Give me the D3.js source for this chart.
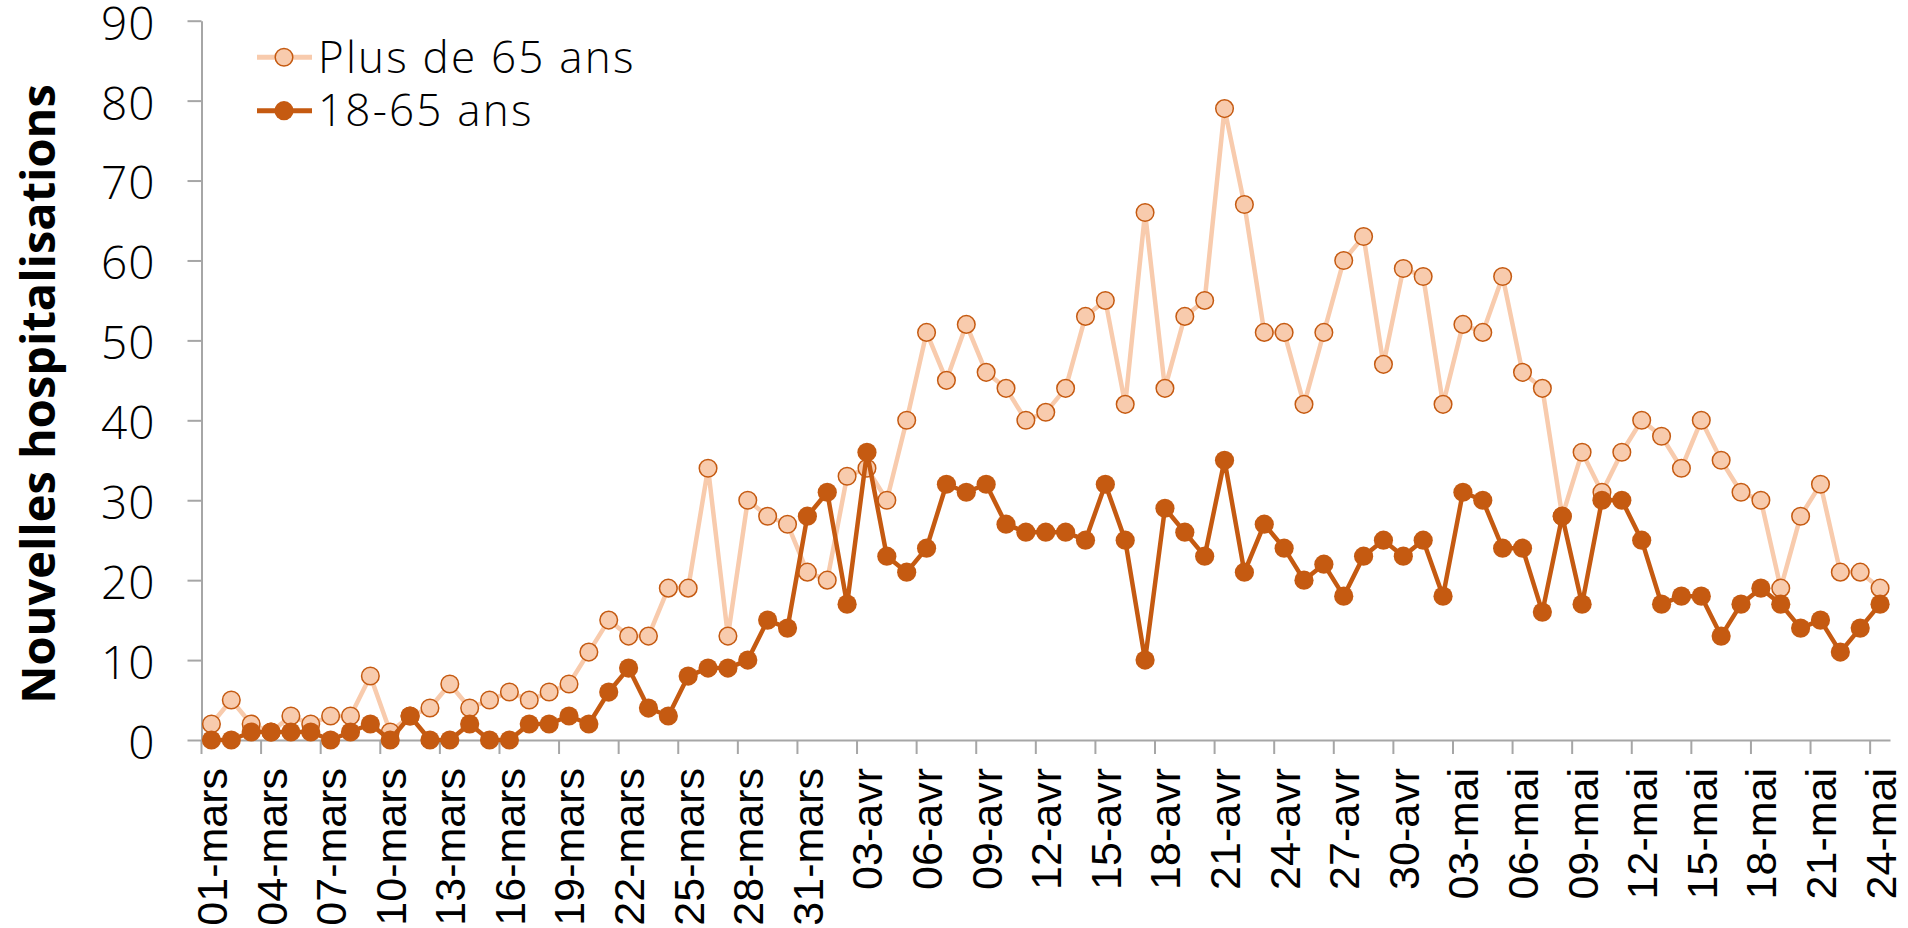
<!DOCTYPE html>
<html>
<head>
<meta charset="utf-8">
<script src="https://cdn.jsdelivr.net/npm/d3@7"></script>
<style>
  body { margin: 0; background: #fff; }
  svg { display: block; }
  .domain { stroke: #a6a6a6; stroke-width: 2; }
  .tick line { stroke: #a6a6a6; stroke-width: 2; }
</style>
</head>
<body>
<script>
// categories (one per day, 01-mars .. 24-mai)
var dates = [
  "01-mars","02-mars","03-mars","04-mars","05-mars","06-mars","07-mars","08-mars","09-mars","10-mars",
  "11-mars","12-mars","13-mars","14-mars","15-mars","16-mars","17-mars","18-mars","19-mars","20-mars",
  "21-mars","22-mars","23-mars","24-mars","25-mars","26-mars","27-mars","28-mars","29-mars","30-mars",
  "31-mars","01-avr","02-avr","03-avr","04-avr","05-avr","06-avr","07-avr","08-avr","09-avr",
  "10-avr","11-avr","12-avr","13-avr","14-avr","15-avr","16-avr","17-avr","18-avr","19-avr",
  "20-avr","21-avr","22-avr","23-avr","24-avr","25-avr","26-avr","27-avr","28-avr","29-avr",
  "30-avr","01-mai","02-mai","03-mai","04-mai","05-mai","06-mai","07-mai","08-mai","09-mai",
  "10-mai","11-mai","12-mai","13-mai","14-mai","15-mai","16-mai","17-mai","18-mai","19-mai",
  "20-mai","21-mai","22-mai","23-mai","24-mai"
];

// Plus de 65 ans
var plus65 = [
  2,5,2,1,3,2,3,3,8,1,
  3,4,7,4,5,6,5,6,7,11,
  15,13,13,19,19,34,13,30,28,27,
  21,20,33,34,30,40,51,45,52,46,
  44,40,41,44,53,55,42,66,44,53,
  55,79,67,51,51,42,51,60,63,47,
  59,58,42,52,51,58,46,44,28,36,
  31,36,40,38,34,40,35,31,30,19,
  28,32,21,21,19
];

// 18-65 ans
var age1865 = [
  0,0,1,1,1,1,0,1,2,0,
  3,0,0,2,0,0,2,2,3,2,
  6,9,4,3,8,9,9,10,15,14,
  28,31,17,36,23,21,24,32,31,32,
  27,26,26,26,25,32,25,10,29,26,
  23,35,21,27,24,20,22,18,23,25,
  23,25,18,31,30,24,24,16,28,17,
  30,30,25,17,18,18,13,17,19,17,
  14,15,11,14,17
];

var yTicks = [0,10,20,30,40,50,60,70,80,90];
var yTitle = "Nouvelles hospitalisations";
var seriesNames = ["Plus de 65 ans", "18-65 ans"];

var light = "#f8cbad", dark = "#c55a11";

var svg = d3.select("body").append("svg").attr("width",1908).attr("height",928);

var x = d3.scaleBand().domain(dates).range([201.5, 1890]).padding(0);
var bw = x.bandwidth();
var y = d3.scaleLinear().domain([0,90]).range([740, 20.7]);

// y axis
var yAxis = svg.append("g")
          .attr("transform","translate(201.5,0)")
          .call(d3.axisLeft(y).tickValues(yTicks).tickSize(14).tickSizeOuter(0).tickPadding(32));
yAxis.selectAll("text")
          .attr("fill","#000")
          .attr("dy","0.4em")
          .style("font-family","'Open Sans'")
          .style("font-weight","300")
          .style("font-size","46px")
          .style("letter-spacing","1px");

// x axis, tick marks sit at category boundaries
var xAxis = svg.append("g")
          .attr("transform","translate(0,740)")
          .call(d3.axisBottom(x).tickValues(dates.filter(function(d,i){ return i % 3 == 0; }))
                .tickSize(14).tickSizeOuter(0));
xAxis.selectAll(".tick line").attr("x1",-bw/2).attr("x2",-bw/2);
xAxis.selectAll("text")
          .attr("fill","#000")
          .attr("transform","rotate(-90)")
          .attr("text-anchor","end")
          .attr("x",-28)
          .attr("y",0)
          .attr("dy","0.36em")
          .style("font-family","'Liberation Sans', Arial")
          .style("font-size","43px");

// axis title
svg.append("text")
          .attr("transform","translate(55,394) rotate(-90)")
          .attr("text-anchor","middle")
          .style("font-family","'Open Sans'")
          .style("font-weight","700")
          .style("font-size","47px")
          .text(yTitle);

var line = d3.line()
          .x(function(d,i){ return x(dates[i]) + bw/2; })
          .y(function(d){ return y(d); });

// Plus de 65 ans
svg.append("path")
          .datum(plus65)
          .attr("fill","none")
          .attr("stroke",light)
          .attr("stroke-width",4.5)
          .attr("stroke-linejoin","round")
          .attr("d",line);
svg.append("g").selectAll("circle")
          .data(plus65).join("circle")
          .attr("cx",function(d,i){ return x(dates[i]) + bw/2; })
          .attr("cy",function(d){ return y(d); })
          .attr("r",8.8)
          .attr("fill",light)
          .attr("stroke",dark)
          .attr("stroke-width",1.5);

// 18-65 ans
svg.append("path")
          .datum(age1865)
          .attr("fill","none")
          .attr("stroke",dark)
          .attr("stroke-width",4.5)
          .attr("stroke-linejoin","round")
          .attr("d",line);
svg.append("g").selectAll("circle")
          .data(age1865).join("circle")
          .attr("cx",function(d,i){ return x(dates[i]) + bw/2; })
          .attr("cy",function(d){ return y(d); })
          .attr("r",9.6)
          .attr("fill",dark);

// legend
var legend = svg.append("g");
var legendRows = [
  {name: seriesNames[0], color: light, cy: 57.3},
  {name: seriesNames[1], color: dark, cy: 110.7}
];
legendRows.forEach(function(r, k){
  legend.append("line")
          .attr("x1",257).attr("x2",312)
          .attr("y1",r.cy).attr("y2",r.cy)
          .attr("stroke",r.color)
          .attr("stroke-width",5);
  legend.append("circle")
          .attr("cx",284).attr("cy",r.cy)
          .attr("r", k == 0 ? 8.8 : 9.6)
          .attr("fill",r.color)
          .attr("stroke", k == 0 ? dark : "none")
          .attr("stroke-width",1.5);
  legend.append("text")
          .attr("x",318).attr("y",r.cy + 15.5)
          .style("font-family","'Open Sans'")
          .style("font-weight","300")
          .style("font-size","44px")
          .style("letter-spacing","2.2px")
          .text(r.name);
});
</script>
</body>
</html>
